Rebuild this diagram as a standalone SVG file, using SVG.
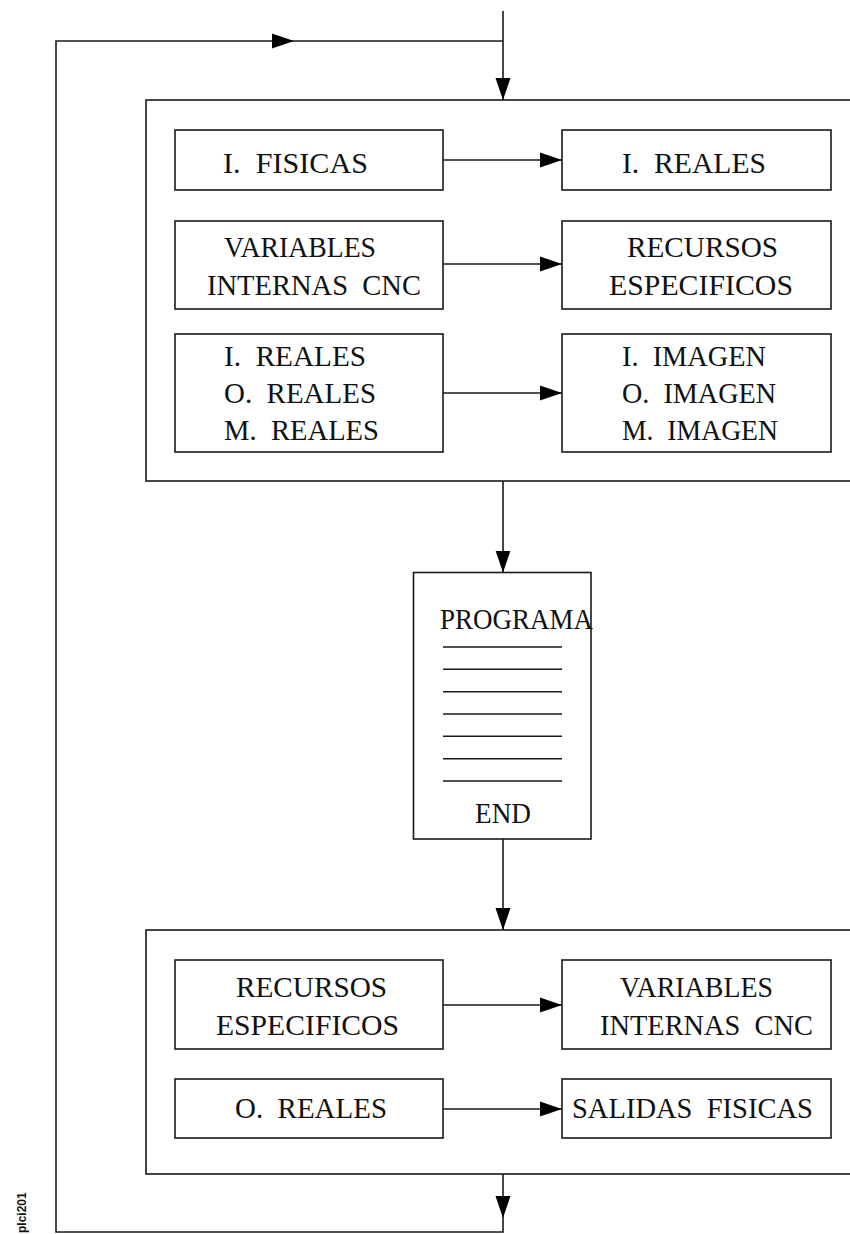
<svg xmlns="http://www.w3.org/2000/svg" width="850" height="1234" viewBox="0 0 850 1234" xml:space="preserve">
<style>
.box{fill:#fff;stroke:#1a1a1a;stroke-width:1.6}
.ln{fill:none;stroke:#1a1a1a;stroke-width:1.6}
.t{font-family:"Liberation Serif","Times New Roman",serif;font-size:29px;fill:#111;white-space:pre}
.tag{font-family:"Liberation Sans",Arial,sans-serif;font-size:12px;font-weight:bold;fill:#111}
</style>
<defs>
<marker id="ah" markerUnits="userSpaceOnUse" markerWidth="22" markerHeight="16" refX="22" refY="7.5" orient="auto" viewBox="0 0 22 15">
<path d="M0,0 L22,7.5 L0,15 z" fill="#000"/>
</marker>
</defs>
<rect width="850" height="1234" fill="#fff"/>
<g id="block-entrada"><rect class="box" x="146" y="100" width="720" height="381"/></g>
<g id="n-ifisicas"><rect class="box" x="175" y="130" width="268" height="60"/><text class="t" x="223" y="173" textLength="145" lengthAdjust="spacingAndGlyphs">I.  FISICAS</text></g>
<g id="n-ireales1"><rect class="box" x="562" y="130" width="269" height="60"/><text class="t" x="622" y="173" textLength="144" lengthAdjust="spacingAndGlyphs">I.  REALES</text></g>
<g id="n-varint1"><rect class="box" x="175" y="221" width="268" height="88"/><text class="t" x="224" y="257" textLength="152" lengthAdjust="spacingAndGlyphs">VARIABLES</text><text class="t" x="207" y="295" textLength="214" lengthAdjust="spacingAndGlyphs">INTERNAS  CNC</text></g>
<g id="n-recesp1"><rect class="box" x="562" y="221" width="269" height="88"/><text class="t" x="627" y="257" textLength="151" lengthAdjust="spacingAndGlyphs">RECURSOS</text><text class="t" x="609" y="295" textLength="184" lengthAdjust="spacingAndGlyphs">ESPECIFICOS</text></g>
<g id="n-reales"><rect class="box" x="175" y="334" width="268" height="118"/><text class="t" x="224" y="366" textLength="142" lengthAdjust="spacingAndGlyphs">I.  REALES</text><text class="t" x="224" y="403" textLength="152" lengthAdjust="spacingAndGlyphs">O.  REALES</text><text class="t" x="224" y="440" textLength="155" lengthAdjust="spacingAndGlyphs">M.  REALES</text></g>
<g id="n-imagen"><rect class="box" x="562" y="334" width="269" height="118"/><text class="t" x="622" y="366" textLength="144" lengthAdjust="spacingAndGlyphs">I.  IMAGEN</text><text class="t" x="622" y="403" textLength="154" lengthAdjust="spacingAndGlyphs">O.  IMAGEN</text><text class="t" x="622" y="440" textLength="156" lengthAdjust="spacingAndGlyphs">M.  IMAGEN</text></g>
<g id="n-programa">
<rect class="box" x="413.5" y="572.5" width="177.5" height="266.5"/>
<text class="t" x="440" y="629" textLength="153" lengthAdjust="spacingAndGlyphs">PROGRAMA</text>
<path class="ln" d="M443,647H562M443,669.3H562M443,691.7H562M443,714H562M443,736.3H562M443,758.7H562M443,781H562"/>
<text class="t" x="475" y="823" textLength="56" lengthAdjust="spacingAndGlyphs">END</text>
</g>
<g id="block-salida"><rect class="box" x="146" y="930" width="720" height="244"/></g>
<g id="n-recesp2"><rect class="box" x="175" y="960" width="268" height="89"/><text class="t" x="236" y="997" textLength="151" lengthAdjust="spacingAndGlyphs">RECURSOS</text><text class="t" x="216" y="1035" textLength="183" lengthAdjust="spacingAndGlyphs">ESPECIFICOS</text></g>
<g id="n-varint2"><rect class="box" x="562" y="960" width="269" height="89"/><text class="t" x="620" y="997" textLength="153" lengthAdjust="spacingAndGlyphs">VARIABLES</text><text class="t" x="600" y="1035" textLength="213" lengthAdjust="spacingAndGlyphs">INTERNAS  CNC</text></g>
<g id="n-oreales"><rect class="box" x="175" y="1079" width="268" height="59"/><text class="t" x="235" y="1118" textLength="152" lengthAdjust="spacingAndGlyphs">O.  REALES</text></g>
<g id="n-salidas"><rect class="box" x="562" y="1079" width="269" height="59"/><text class="t" x="572" y="1118" textLength="241" lengthAdjust="spacingAndGlyphs">SALIDAS  FISICAS</text></g>
<g id="connectors">
<line class="ln" x1="503" y1="11" x2="503" y2="100" marker-end="url(#ah)"/>
<path class="ln" d="M503,1218 V1232 H56 V41 H294" marker-end="url(#ah)"/>
<line class="ln" x1="294" y1="41" x2="503" y2="41"/>
<line class="ln" x1="443" y1="160" x2="562" y2="160" marker-end="url(#ah)"/>
<line class="ln" x1="443" y1="264" x2="562" y2="264" marker-end="url(#ah)"/>
<line class="ln" x1="443" y1="393" x2="562" y2="393" marker-end="url(#ah)"/>
<line class="ln" x1="503" y1="481" x2="503" y2="572.5" marker-end="url(#ah)"/>
<line class="ln" x1="503" y1="839" x2="503" y2="930" marker-end="url(#ah)"/>
<line class="ln" x1="443" y1="1005" x2="562" y2="1005" marker-end="url(#ah)"/>
<line class="ln" x1="443" y1="1109" x2="562" y2="1109" marker-end="url(#ah)"/>
<line class="ln" x1="503" y1="1174" x2="503" y2="1218" marker-end="url(#ah)"/>
</g>
<text class="tag" transform="translate(26,1233) rotate(-90)">plci201</text>
</svg>
